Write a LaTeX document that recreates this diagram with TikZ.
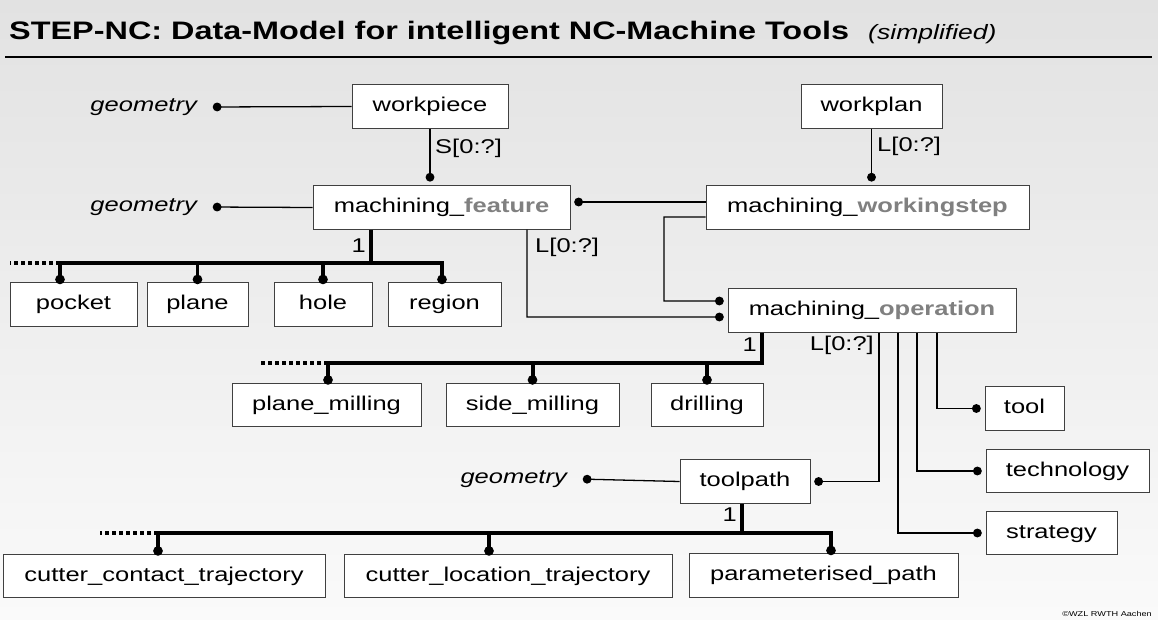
\documentclass[tikz,border=0pt]{standalone}
\usepackage{fontspec}
\setmainfont{Liberation Sans}[FakeStretch=1.28]
\usetikzlibrary{arrows.meta}
\definecolor{hlgray}{RGB}{128,128,128}
\definecolor{bgtop}{RGB}{226,226,226}
\definecolor{bgbot}{RGB}{250,250,250}
\newcommand{\hl}[1]{{\bfseries\color{hlgray}#1}}

\begin{document}
\begin{tikzpicture}[x=0.03cm,y=-0.03cm]
\tikzstyle{every node}=[font=\fontsize{17}{20}\selectfont,inner sep=0pt];
\tikzstyle{box}=[draw=black!75,fill=white,line width=0.8pt,minimum height=1.3cm,text height=12.2pt,text depth=3.6pt];
\tikzstyle{geo}=[font=\fontsize{17}{20}\selectfont\itshape,inner xsep=0.36cm];
\tikzstyle{conn}=[line width=1.1pt,-{Circle[length=7.5pt,width=7.5pt]},shorten >=3.2pt];
\tikzstyle{bus}=[line width=3.4pt];
\tikzstyle{drop}=[line width=3.4pt,-{Circle[length=8pt,width=8pt]},shorten >=-1.5pt];
\tikzstyle{dotline}=[line width=3.4pt,dash pattern=on 3.4pt off 2.6pt];
\shade[top color=bgtop,bottom color=bgbot] (0,0) rectangle (1158,619);
\useasboundingbox (0,0) rectangle (1158,619);

\node[anchor=base west,font=\fontsize{21.6}{25}\selectfont\bfseries] (title) at (9,40)
  {STEP-NC: Data-Model for intelligent NC-Machine Tools};
\node[anchor=base west,font=\fontsize{17.7}{20}\selectfont\itshape] (subtitle) at (868,40) {(simplified)};
\draw[line width=1.6pt] (5,57) -- (1152,57);

\node[box,minimum width=4.68cm] (wpiece) at (430,106.5) {workpiece};
\node[box,minimum width=4.23cm] (wplan) at (871.5,106.5) {workplan};
\node[box,minimum width=7.71cm] (feat) at (441.5,207.5) {machining\_\hl{feature}};
\node[box,minimum width=9.69cm] (wstep) at (867.5,207.5) {machining\_\hl{workingstep}};
\node[box,minimum width=3.81cm] (pocket) at (73.5,304.5) {pocket};
\node[box,minimum width=3.03cm] (plane) at (197.5,304.5) {plane};
\node[box,minimum width=2.94cm] (hole) at (323,304.5) {hole};
\node[box,minimum width=3.39cm] (region) at (444.5,304.5) {region};
\node[box,minimum width=8.64cm] (oper) at (872,310.5) {machining\_\hl{operation}};
\node[box,minimum width=5.67cm] (pmill) at (326.5,405) {plane\_milling};
\node[box,minimum width=5.19cm] (smill) at (532.5,405) {side\_milling};
\node[box,minimum width=3.36cm] (drill) at (707,405) {drilling};
\node[box,minimum width=2.37cm] (tool) at (1024.5,408.5) {tool};
\node[box,minimum width=4.89cm] (techn) at (1067.5,471) {technology};
\node[box,minimum width=3.93cm] (strat) at (1051.5,533) {strategy};
\node[box,minimum width=3.90cm] (tpath) at (745,481.5) {toolpath};
\node[box,minimum width=9.66cm] (cct) at (164,576) {cutter\_contact\_trajectory};
\node[box,minimum width=9.84cm] (clt) at (508,576) {cutter\_location\_trajectory};
\node[box,minimum width=8.07cm] (ppath) at (823.5,575.5) {parameterised\_path};

\node[geo,anchor=east] (geo1) at (209,107) {geometry};
\node[geo,anchor=east] (geo2) at (209,207) {geometry};
\node[geo,anchor=east] (geo3) at (579,479) {geometry};

\node[anchor=west] (sfeat) at (435,148) {S[0:?]};
\node[anchor=west] (lstep) at (877,146) {L[0:?]};
\node[anchor=west] (lfeat) at (535,247) {L[0:?]};
\node[anchor=east] (lpath) at (874,345) {L[0:?]};
\node[anchor=east] (nfeat) at (366,246) {1};
\node[anchor=east] (noper) at (757,345) {1};
\node[anchor=east] (npath) at (737,515) {1};

\coordinate (k1) at (664,301);
\coordinate (k2) at (527,317);
\coordinate (k3) at (879,481.5);
\coordinate (k4) at (937,408.5);
\coordinate (k5) at (917,471);
\coordinate (k6) at (898,533);

\draw[conn] (wpiece.west) -- (geo1.east);
\draw[conn] (feat.west) -- (geo2.east);
\draw[conn] (tpath.west) -- (geo3.east);
\draw[conn] (wpiece.south) -- (wpiece.south |- feat.north);
\draw[conn] (wplan.south) -- (wplan.south |- wstep.north);
\draw[conn] ([yshift=0.165cm]wstep.west) -- ([yshift=0.165cm]feat.east);
\draw[conn] ([yshift=-0.285cm]wstep.west) -| (k1) -- ([yshift=0.285cm]oper.west);
\draw[conn] (k2 |- feat.south) -- (k2) -- ([yshift=-0.195cm]oper.west);
\draw[conn] (k3 |- oper.south) -- (k3) -- (tpath.east);
\draw[conn] (k4 |- oper.south) -- (k4) -- (tool.west);
\draw[conn] (k5 |- oper.south) -- (k5) -- (techn.west);
\draw[conn] (k6 |- oper.south) -- (k6) -- (strat.west);

\coordinate (fstem) at (371,263);
\coordinate (fbl) at (60,263);
\coordinate (fbr) at (442,263);
\coordinate (fdot) at (10,263);
\draw[bus] (fstem |- feat.south) -- (fstem);
\draw[drop] (fbl) -- (fbr) -- (fbr |- region.north);
\draw[drop] (fbl) -- (fbl |- pocket.north);
\draw[drop] (plane.north |- fbl) -- (plane.north);
\draw[drop] (hole.north |- fbl) -- (hole.north);
\draw[dotline] (fbl) -- (fdot);

\coordinate (ostem) at (762,363);
\coordinate (obl) at (328,363);
\coordinate (odot) at (260,363);
\draw[drop] (ostem |- oper.south) -- (ostem) -- (obl) -- (obl |- pmill.north);
\draw[drop] (smill.north |- ostem) -- (smill.north);
\draw[drop] (drill.north |- ostem) -- (drill.north);
\draw[dotline] (obl) -- (odot);

\coordinate (tstem) at (742,533);
\coordinate (tbl) at (158,533);
\coordinate (tbr) at (831,533);
\coordinate (tcl) at (489,533);
\coordinate (tdot) at (100,533);
\draw[bus] (tstem |- tpath.south) -- (tstem);
\draw[drop] (tbl) -- (tbr) -- (tbr |- ppath.north);
\draw[drop] (tbl) -- (tbl |- cct.north);
\draw[drop] (tcl) -- (tcl |- clt.north);
\draw[dotline] (tbl) -- (tdot);

\node[anchor=base east,font=\fontsize{6.1}{7}\selectfont] (copy) at (1152,616) {©WZL RWTH Aachen};
\end{tikzpicture}
\end{document}
